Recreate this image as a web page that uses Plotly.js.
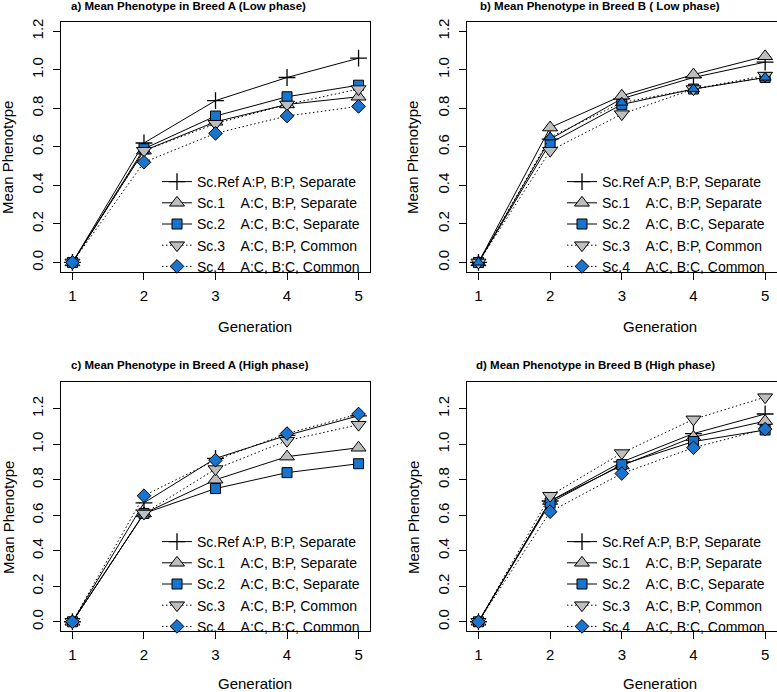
<!DOCTYPE html>
<html>
<head>
<meta charset="utf-8">
<script src="https://cdn.plot.ly/plotly-3.0.1.min.js"></script>
<style>
html,body{margin:0;padding:0;background:#fff;}
#chart{width:777px;height:692px;}
</style>
</head>
<body>
<div id="chart"></div>
<script>
// ---------------- data ----------------
const generation = [1, 2, 3, 4, 5];
const yTickValues = [0, 0.2, 0.4, 0.6, 0.8, 1.0, 1.2];
const scenarioLabels = [
  "Sc.Ref A:P, B:P, Separate",
  "Sc.1\u00a0\u00a0\u00a0\u00a0A:C, B:P, Separate",
  "Sc.2\u00a0\u00a0\u00a0\u00a0A:C, B:C, Separate",
  "Sc.3\u00a0\u00a0\u00a0\u00a0A:C, B:P, Common",
  "Sc.4\u00a0\u00a0\u00a0\u00a0A:C, B:C, Common"
];
const panelTitles = [
  "a) Mean Phenotype in Breed A (Low phase)",
  "b) Mean Phenotype in Breed B ( Low phase)",
  "c) Mean Phenotype in Breed A (High phase)",
  "d) Mean Phenotype in Breed B (High phase)"
];
const xTitle = "Generation";
const yTitle = "Mean Phenotype";

// a) Breed A, Low phase
const lowA_Ref = [0, 0.62, 0.84, 0.96, 1.06];
const lowA_Sc1 = [0, 0.58, 0.73, 0.82, 0.86];
const lowA_Sc2 = [0, 0.59, 0.76, 0.86, 0.92];
const lowA_Sc3 = [0, 0.58, 0.72, 0.82, 0.90];
const lowA_Sc4 = [0, 0.52, 0.67, 0.76, 0.81];
// b) Breed B, Low phase
const lowB_Ref = [0, 0.64, 0.85, 0.96, 1.04];
const lowB_Sc1 = [0, 0.70, 0.865, 0.975, 1.07];
const lowB_Sc2 = [0, 0.62, 0.82, 0.90, 0.96];
const lowB_Sc3 = [0, 0.58, 0.77, 0.90, 0.97];
const lowB_Sc4 = [0, 0.65, 0.83, 0.90, 0.96];
// c) Breed A, High phase
const highA_Ref = [0, 0.67, 0.92, 1.05, 1.16];
const highA_Sc1 = [0, 0.61, 0.80, 0.93, 0.98];
const highA_Sc2 = [0, 0.61, 0.75, 0.84, 0.89];
const highA_Sc3 = [0, 0.61, 0.86, 1.02, 1.11];
const highA_Sc4 = [0, 0.71, 0.91, 1.06, 1.17];
// d) Breed B, High phase
const highB_Ref = [0, 0.68, 0.90, 1.06, 1.17];
const highB_Sc1 = [0, 0.68, 0.88, 1.04, 1.13];
const highB_Sc2 = [0, 0.67, 0.885, 1.015, 1.08];
const highB_Sc3 = [0, 0.71, 0.95, 1.14, 1.265];
const highB_Sc4 = [0, 0.62, 0.835, 0.98, 1.085];

// ---------------- styling / layout ----------------
const W = 777, H = 692;
const FONT = "Liberation Sans, Arial, Helvetica, sans-serif";
const BLUE = "#1874CD", GRAY = "#BEBEBE";
const DOTTED = "1.5px,2.5px";
const px = v => v / W;
const py = v => 1 - v / H;

const styles = [
  {symbol: "cross-thin", color: "black", dash: "solid", size: 12},
  {symbol: "triangle-up", color: GRAY, dash: "solid", size: 13},
  {symbol: "square", color: BLUE, dash: "solid", size: 10},
  {symbol: "triangle-down", color: GRAY, dash: DOTTED, size: 13},
  {symbol: "diamond", color: BLUE, dash: DOTTED, size: 10.5}
];

const panels = [
  {series: [lowA_Ref, lowA_Sc1, lowA_Sc2, lowA_Sc3, lowA_Sc4], ymax: 1.2,
   box: [61, 370, 22, 271.7], title: [188.5, 6], legendTop: 166, legendX: 157, xt: [255, 326], yt: [8, 158]},
  {series: [lowB_Ref, lowB_Sc1, lowB_Sc2, lowB_Sc3, lowB_Sc4], ymax: 1.2,
   box: [467, 776.6, 22, 271.7], title: [600, 6], legendTop: 166, legendX: 562, xt: [660, 326], yt: [413, 158],
   sc4Symbol: "triangle-up"},
  {series: [highA_Ref, highA_Sc1, highA_Sc2, highA_Sc3, highA_Sc4], ymax: 1.3,
   box: [61, 370, 381.7, 631], title: [190, 365], legendTop: 526, legendX: 157, xt: [255, 683], yt: [8, 518]},
  {series: [highB_Ref, highB_Sc1, highB_Sc2, highB_Sc3, highB_Sc4], ymax: 1.3,
   box: [467, 776.6, 381.7, 631], title: [595, 365], legendTop: 526, legendX: 562, xt: [660, 683], yt: [413, 518]}
];

const traces = [];
const layout = {
  width: W, height: H,
  margin: {l: 0, r: 0, t: 0, b: 0},
  paper_bgcolor: "white", plot_bgcolor: "white",
  font: {family: FONT, color: "black", size: 14},
  annotations: [],
  showlegend: true
};

panels.forEach((p, i) => {
  const n = i + 1;
  const xa = n === 1 ? "x" : "x" + n;
  const ya = n === 1 ? "y" : "y" + n;
  const lg = n === 1 ? "legend" : "legend" + n;
  const ext = p.ymax * 0.04;
  layout[n === 1 ? "xaxis" : "xaxis" + n] = {
    domain: [px(p.box[0]), px(p.box[1])],
    anchor: ya,
    range: [0.84, 5.16],
    tickvals: generation,
    ticks: "outside", ticklen: 7, tickwidth: 1, tickcolor: "black",
    showline: true, mirror: true, linecolor: "black", linewidth: 1,
    showgrid: false, zeroline: false,
    tickfont: {family: FONT, size: 15, color: "black"},
    ticklabelstandoff: 3
  };
  layout[n === 1 ? "yaxis" : "yaxis" + n] = {
    domain: [py(p.box[3]), py(p.box[2])],
    anchor: xa,
    range: [-ext, p.ymax + ext],
    tickvals: yTickValues,
    tickformat: ".1f",
    tickangle: -90,
    ticks: "outside", ticklen: 7, tickwidth: 1, tickcolor: "black",
    showline: true, mirror: true, linecolor: "black", linewidth: 1,
    showgrid: false, zeroline: false,
    tickfont: {family: FONT, size: 15, color: "black"},
    ticklabelstandoff: 4
  };
  layout[lg] = {
    x: px(p.legendX), y: py(p.legendTop),
    xanchor: "left", yanchor: "top",
    bgcolor: "rgba(0,0,0,0)", borderwidth: 0,
    font: {family: FONT, size: 14, color: "black"},
    tracegroupgap: 0, itemclick: false
  };
  p.series.forEach((vals, k) => {
    const s = styles[k];
    const sym = (k === 4 && p.sc4Symbol) ? p.sc4Symbol : s.symbol;
    traces.push({
      type: "scatter", mode: "lines+markers",
      x: generation, y: vals,
      xaxis: xa, yaxis: ya, legend: lg,
      name: scenarioLabels[k],
      showlegend: sym === s.symbol,
      line: {color: "black", width: 1, dash: s.dash},
      marker: {symbol: sym, size: s.size, color: s.color,
               line: {color: "black", width: k === 0 ? 1.3 : 1}},
      hoverinfo: "skip"
    });
  });
  if (p.sc4Symbol) {
    const s = styles[4];
    traces.push({
      type: "scatter", mode: "lines+markers",
      x: [null], y: [null], xaxis: xa, yaxis: ya, legend: lg,
      name: scenarioLabels[4], showlegend: true,
      line: {color: "black", width: 1, dash: s.dash},
      marker: {symbol: s.symbol, size: s.size, color: s.color, line: {color: "black", width: 1}},
      hoverinfo: "skip"
    });
  }
  layout.annotations.push({
    text: "<b>" + panelTitles[i] + "</b>", xref: "paper", yref: "paper",
    x: px(p.title[0]), y: py(p.title[1]), xanchor: "center", yanchor: "middle",
    showarrow: false, font: {family: FONT, size: 11.5, color: "black"}
  });
  layout.annotations.push({
    text: xTitle, xref: "paper", yref: "paper",
    x: px(p.xt[0]), y: py(p.xt[1]), xanchor: "center", yanchor: "middle",
    showarrow: false, font: {family: FONT, size: 15, color: "black"}
  });
  layout.annotations.push({
    text: yTitle, xref: "paper", yref: "paper", textangle: -90,
    x: px(p.yt[0]), y: py(p.yt[1]), xanchor: "center", yanchor: "middle",
    showarrow: false, font: {family: FONT, size: 15, color: "black"}
  });
});

Plotly.newPlot("chart", traces, layout, {displayModeBar: false, staticPlot: true});
</script>
</body>
</html>
